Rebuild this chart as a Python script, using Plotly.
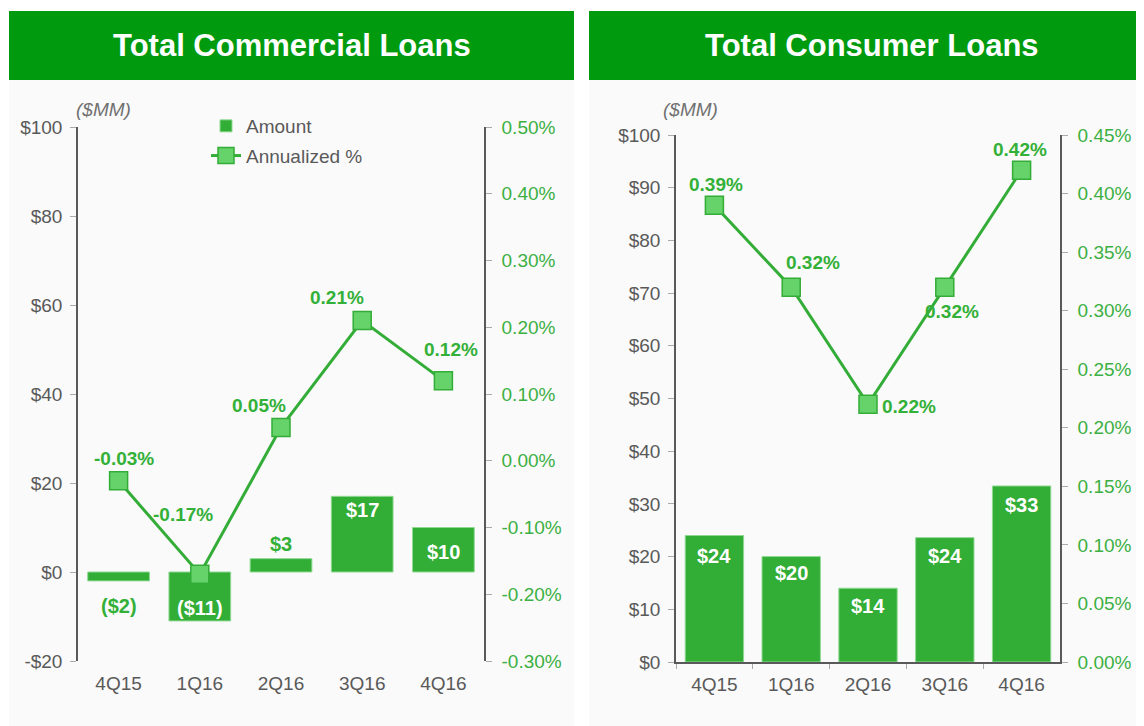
import plotly.graph_objects as go

quarters = ["4Q15", "1Q16", "2Q16", "3Q16", "4Q16"]
commercial_amount = [-2, -11, 3, 17, 10]
commercial_pct = [-0.03, -0.17, 0.05, 0.21, 0.12]
consumer_amount = [24, 20, 14, 23.6, 33.4]
consumer_pct = [0.39, 0.32, 0.22, 0.32, 0.42]

left_y_ticks = [-20, 0, 20, 40, 60, 80, 100]
left_y2_ticks = [-0.30, -0.20, -0.10, 0.00, 0.10, 0.20, 0.30, 0.40, 0.50]
right_y_ticks = [0, 10, 20, 30, 40, 50, 60, 70, 80, 90, 100]
right_y2_ticks = [0.00, 0.05, 0.10, 0.15, 0.20, 0.25, 0.30, 0.35, 0.40, 0.45]

# styles / label placement offsets (pixels)
com_pct_off = [(5, 22), (-17, 60), (-22, 22), (-25, 23), (8, 31)]
con_pct_off = [(2, 21), (22, 25), (41, -2), (7, -24), (-2, 21)]
com_bar_off = [-25, 13, 15, -14, -24]
con_bar_off = [-20, -16, -18, -18, -19]

BAR = "#32ad36"
LINE = "#33ad37"
MFILL = "#66d36a"
TXTG = "#33b037"
TICKG = "#3cb043"
GRAY = "#595959"
FONT = "Liberation Sans, Arial, sans-serif"
W, H = 1144, 726
OX, OY = 8, 8  # page body offset compensation


def px(x):
    return (x - OX) / W


def py(y):
    return 1 - (y - OY) / H


def fmt_money(v):
    r = round(v)
    return f"(${abs(r)})" if r < 0 else f"${r}"


def fmt_pct(v):
    return f"{v:.2f}%"


fig = go.Figure()

fig.add_trace(go.Bar(x=quarters, y=commercial_amount, name="Amount", legendgroup="a",
                     marker=dict(color=BAR, line=dict(color="#8fd992", width=1)),
                     width=0.76, xaxis="x", yaxis="y", hoverinfo="skip"))
fig.add_trace(go.Scatter(x=quarters, y=commercial_pct, name="Annualized %", legendgroup="b", mode="lines+markers",
                         line=dict(color=LINE, width=3),
                         marker=dict(symbol="square", size=18, color=MFILL, line=dict(color=LINE, width=1.5)),
                         xaxis="x", yaxis="y2", hoverinfo="skip"))
fig.add_trace(go.Bar(x=quarters, y=consumer_amount, name="Amount", showlegend=False,
                     marker=dict(color=BAR, line=dict(color="#8fd992", width=1)),
                     width=0.76, xaxis="x2", yaxis="y3", hoverinfo="skip"))
fig.add_trace(go.Scatter(x=quarters, y=consumer_pct, name="Annualized %", showlegend=False, mode="lines+markers",
                         line=dict(color=LINE, width=3),
                         marker=dict(symbol="square", size=18, color=MFILL, line=dict(color=LINE, width=1.5)),
                         xaxis="x2", yaxis="y4", hoverinfo="skip"))

LBL = 19
ann = []
for q, v, (dx, dy) in zip(quarters, commercial_pct, com_pct_off):
    ann.append(dict(x=q, y=v, xref="x", yref="y2", text=fmt_pct(v), showarrow=False, xshift=dx, yshift=dy,
                    xanchor="center", yanchor="middle",
                    font=dict(family=FONT, size=LBL, color=TXTG, weight="bold")))
for q, v, (dx, dy) in zip(quarters, consumer_pct, con_pct_off):
    ann.append(dict(x=q, y=v, xref="x2", yref="y4", text=fmt_pct(v), showarrow=False, xshift=dx, yshift=dy,
                    xanchor="center", yanchor="middle",
                    font=dict(family=FONT, size=LBL, color=TXTG, weight="bold")))
for q, v, dy in zip(quarters, commercial_amount, com_bar_off):
    inside = (v > 0 and dy < 0) or (v < 0 and dy > 0)
    ann.append(dict(x=q, y=v, xref="x", yref="y", text=fmt_money(v), showarrow=False, yshift=dy,
                    xanchor="center", yanchor="middle",
                    font=dict(family=FONT, size=20, color="white" if inside else TXTG, weight="bold")))
for q, v, dy in zip(quarters, consumer_amount, con_bar_off):
    ann.append(dict(x=q, y=v, xref="x2", yref="y3", text=fmt_money(v), showarrow=False, yshift=dy,
                    xanchor="center", yanchor="middle",
                    font=dict(family=FONT, size=20, color="white", weight="bold")))

ann.append(dict(x=px(292), y=py(45), xref="paper", yref="paper", text="<b>Total Commercial Loans</b>",
                xanchor="center", yanchor="middle",
                showarrow=False, font=dict(family=FONT, size=31, color="white")))
ann.append(dict(x=px(872), y=py(45), xref="paper", yref="paper", text="<b>Total Consumer Loans</b>",
                xanchor="center", yanchor="middle",
                showarrow=False, font=dict(family=FONT, size=31, color="white")))
ann.append(dict(x=px(103), y=py(110), xref="paper", yref="paper", text="<i>($MM)</i>",
                xanchor="center", yanchor="middle",
                showarrow=False, font=dict(family=FONT, size=19, color="#707070")))
ann.append(dict(x=px(690), y=py(110), xref="paper", yref="paper", text="<i>($MM)</i>",
                xanchor="center", yanchor="middle",
                showarrow=False, font=dict(family=FONT, size=19, color="#707070")))

shapes = [
    dict(type="rect", xref="paper", yref="paper", x0=px(9), x1=px(574), y0=py(740), y1=py(80),
         fillcolor="#fafafa", line=dict(width=0), layer="below"),
    dict(type="rect", xref="paper", yref="paper", x0=px(589), x1=px(1160), y0=py(740), y1=py(80),
         fillcolor="#fafafa", line=dict(width=0), layer="below"),
    dict(type="rect", xref="paper", yref="paper", x0=px(9), x1=px(574), y0=py(80), y1=py(11),
         fillcolor="#009a0e", line=dict(width=0), layer="below"),
    dict(type="rect", xref="paper", yref="paper", x0=px(589), x1=px(1160), y0=py(80), y1=py(11),
         fillcolor="#009a0e", line=dict(width=0), layer="below"),
]

tickfont = dict(family=FONT, size=19, color=GRAY)
gtickfont = dict(family=FONT, size=19, color=TICKG)

fig.update_layout(
    width=W, height=H, autosize=False,
    margin=dict(l=0, r=0, t=0, b=0, pad=0, autoexpand=False),
    paper_bgcolor="white", plot_bgcolor="rgba(0,0,0,0)",
    font=dict(family=FONT, color=GRAY),
    barmode="overlay",
    showlegend=True,
    legend=dict(x=px(206), y=py(107), xanchor="left", yanchor="top", bgcolor="rgba(0,0,0,0)",
                font=dict(family=FONT, size=19, color=GRAY), tracegroupgap=2, itemwidth=30,
                traceorder="grouped"),
    xaxis=dict(domain=[px(78), px(484)], anchor="y", type="category", showline=False, ticks="",
               tickfont=tickfont, showgrid=False, zeroline=False, ticklabelstandoff=9, automargin=False),
    xaxis3=dict(domain=[px(78), px(484)], overlaying="x", matches="x", anchor="free",
                position=py(572), type="category", showline=True, linecolor=GRAY, linewidth=1.5,
                ticks="outside", tickson="boundaries", ticklen=5, tickcolor="#bbbbbb",
                showticklabels=False, showgrid=False, zeroline=False, automargin=False),
    yaxis=dict(domain=[py(661), py(127)], anchor="x", range=[-20, 100], tickvals=left_y_ticks,
               ticktext=[("-$" + str(abs(t))) if t < 0 else "$" + str(t) for t in left_y_ticks],
               showline=True, linecolor=GRAY, linewidth=1.5, ticks="outside", ticklen=6, tickcolor="#aaaaaa",
               tickfont=tickfont, showgrid=False, zeroline=False, ticklabelstandoff=4, automargin=False),
    yaxis2=dict(overlaying="y", side="right", anchor="x", range=[-0.30, 0.50], tickvals=left_y2_ticks,
                ticktext=[f"{t:.2f}%" for t in left_y2_ticks],
                showline=True, linecolor=GRAY, linewidth=1.5, ticks="outside", ticklen=6, tickcolor="#aaaaaa",
                tickfont=gtickfont, showgrid=False, zeroline=False, ticklabelstandoff=6, automargin=False),
    xaxis2=dict(domain=[px(676), px(1060)], anchor="y3", type="category", showline=True, linecolor=GRAY,
                linewidth=1.5, ticks="outside", tickson="boundaries", ticklen=5, tickcolor="#aaaaaa",
                tickfont=tickfont, showgrid=False, zeroline=False, ticklabelstandoff=4, automargin=False),
    yaxis3=dict(domain=[py(662), py(135)], anchor="x2", range=[0, 100], tickvals=right_y_ticks,
                ticktext=["$" + str(t) for t in right_y_ticks],
                showline=True, linecolor=GRAY, linewidth=1.5, ticks="outside", ticklen=6, tickcolor="#aaaaaa",
                tickfont=tickfont, showgrid=False, zeroline=False, ticklabelstandoff=4, automargin=False),
    yaxis4=dict(overlaying="y3", side="right", anchor="x2", range=[0, 0.45], tickvals=right_y2_ticks,
                ticktext=[f"{t:.2f}%" for t in right_y2_ticks],
                showline=True, linecolor=GRAY, linewidth=1.5, ticks="outside", ticklen=6, tickcolor="#aaaaaa",
                tickfont=gtickfont, showgrid=False, zeroline=False, ticklabelstandoff=6, automargin=False),
    annotations=ann,
    shapes=shapes,
)

fig.write_html("out.html")
